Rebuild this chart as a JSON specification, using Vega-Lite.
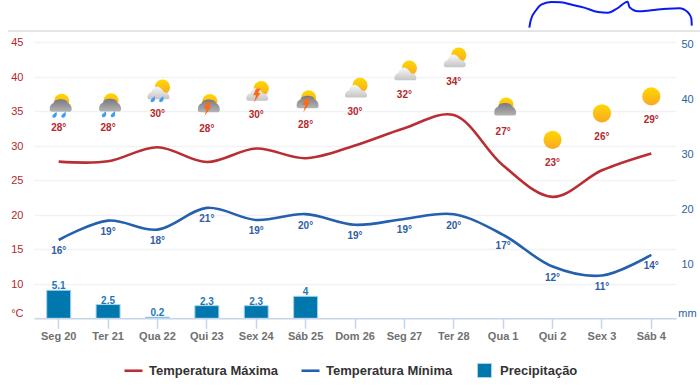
{
"$schema":"https://vega.github.io/schema/vega-lite/v6.json",
"width":642,"height":318.3,
"autosize":{"type":"none"},
"padding":{"left":34,"top":0,"right":24,"bottom":69.7},
"background":"white",
"config":{"view":{"stroke":null},"font":"Liberation Sans"},
"datasets":{
"temps":[
{"dia":"Seg 20","serie":"Temperatura Máxima","valor":27.7,"rotulo":"28°","icone":"escura-chuva"},
{"dia":"Ter 21","serie":"Temperatura Máxima","valor":27.75,"rotulo":"28°","icone":"escura-chuva"},
{"dia":"Qua 22","serie":"Temperatura Máxima","valor":29.8,"rotulo":"30°","icone":"clara-chuva"},
{"dia":"Qui 23","serie":"Temperatura Máxima","valor":27.65,"rotulo":"28°","icone":"escura-raio"},
{"dia":"Sex 24","serie":"Temperatura Máxima","valor":29.6,"rotulo":"30°","icone":"clara-raio"},
{"dia":"Sáb 25","serie":"Temperatura Máxima","valor":28.2,"rotulo":"28°","icone":"escura-raio"},
{"dia":"Dom 26","serie":"Temperatura Máxima","valor":30.05,"rotulo":"30°","icone":"clara"},
{"dia":"Seg 27","serie":"Temperatura Máxima","valor":32.55,"rotulo":"32°","icone":"clara"},
{"dia":"Ter 28","serie":"Temperatura Máxima","valor":34.45,"rotulo":"34°","icone":"clara"},
{"dia":"Qua 1","serie":"Temperatura Máxima","valor":27.15,"rotulo":"27°","icone":"escura"},
{"dia":"Qui 2","serie":"Temperatura Máxima","valor":22.6,"rotulo":"23°","icone":"sol"},
{"dia":"Sex 3","serie":"Temperatura Máxima","valor":26.45,"rotulo":"26°","icone":"sol"},
{"dia":"Sáb 4","serie":"Temperatura Máxima","valor":28.9,"rotulo":"29°","icone":"sol"},
{"dia":"Seg 20","serie":"Temperatura Mínima","valor":16.35,"rotulo":"16°"},
{"dia":"Ter 21","serie":"Temperatura Mínima","valor":19.15,"rotulo":"19°"},
{"dia":"Qua 22","serie":"Temperatura Mínima","valor":17.85,"rotulo":"18°"},
{"dia":"Qui 23","serie":"Temperatura Mínima","valor":21,"rotulo":"21°"},
{"dia":"Sex 24","serie":"Temperatura Mínima","valor":19.25,"rotulo":"19°"},
{"dia":"Sáb 25","serie":"Temperatura Mínima","valor":20.1,"rotulo":"20°"},
{"dia":"Dom 26","serie":"Temperatura Mínima","valor":18.55,"rotulo":"19°"},
{"dia":"Seg 27","serie":"Temperatura Mínima","valor":19.4,"rotulo":"19°"},
{"dia":"Ter 28","serie":"Temperatura Mínima","valor":20.07,"rotulo":"20°"},
{"dia":"Qua 1","serie":"Temperatura Mínima","valor":17.1,"rotulo":"17°"},
{"dia":"Qui 2","serie":"Temperatura Mínima","valor":12.5,"rotulo":"12°"},
{"dia":"Sex 3","serie":"Temperatura Mínima","valor":11.2,"rotulo":"11°"},
{"dia":"Sáb 4","serie":"Temperatura Mínima","valor":14.2,"rotulo":"14°"}
],
"chuva":[
{"dia":"Seg 20","serie":"Precipitação","mm":5.1},
{"dia":"Ter 21","serie":"Precipitação","mm":2.5},
{"dia":"Qua 22","serie":"Precipitação","mm":0.2},
{"dia":"Qui 23","serie":"Precipitação","mm":2.3},
{"dia":"Sex 24","serie":"Precipitação","mm":2.3},
{"dia":"Sáb 25","serie":"Precipitação","mm":4}
],
"traco":[
{"d":9.53,"t":47.12},{"d":9.56,"t":48.23},{"d":9.67,"t":49.68},{"d":9.77,"t":50.45},{"d":9.97,"t":50.84},
{"d":10.17,"t":50.8},{"d":10.41,"t":50.41},{"d":10.64,"t":50.02},{"d":10.92,"t":49.39},{"d":11.12,"t":49.29},
{"d":11.32,"t":49.97},{"d":11.52,"t":50.89},{"d":11.56,"t":50.07},{"d":11.73,"t":49.49},{"d":12.0,"t":49.64},
{"d":12.33,"t":49.87},{"d":12.57,"t":49.93},{"d":12.74,"t":49.35},{"d":12.81,"t":48.48},{"d":12.82,"t":47.41}
],
"borda":[{"d":-1.03,"t":46.64},{"d":13.01,"t":46.64}]
},
"resolve":{"scale":{"x":"independent","y":"independent"}},
"layer":[
{
"encoding":{
"x":{"field":"dia","type":"nominal","title":null,
 "scale":{"type":"band","padding":0,"domain":["Seg 20","Ter 21","Qua 22","Qui 23","Sex 24","Sáb 25","Dom 26","Seg 27","Ter 28","Qua 1","Qui 2","Sex 3","Sáb 4"]},
 "axis":{"labelAngle":0,"domainColor":"#c6d5ea","domainWidth":1.5,"tickColor":"#c6d5ea","tickSize":10,"tickWidth":1.5,"labelColor":"#707070","labelFontSize":11,"labelFontWeight":"bold","labelPadding":2,"zindex":1,"grid":false}},
"y":{"field":"valor","type":"quantitative","title":null,
 "scale":{"domain":[5,51.13],"nice":false,"zero":false},
 "axis":{"values":[5,10,15,20,25,30,35,40,45],"labelExpr":"datum.value==5?'°C':datum.label","labelColor":"#b5272d","labelFontSize":11,"labelPadding":11,"ticks":false,"domain":false,"grid":true,"gridColor":"#f2f2f2","gridWidth":1.5,"labelOffset":{"condition":{"test":"datum.value==5","value":-5},"value":0.5}}}
},
"data":{"name":"temps"},
"layer":[
{"mark":{"type":"line","interpolate":"catmull-rom","strokeWidth":2.6},
 "encoding":{"stroke":{"field":"serie","type":"nominal",
  "scale":{"domain":["Temperatura Máxima","Temperatura Mínima"],"range":["#b92e32","#2460ad"]},
  "legend":{"title":null,"orient":"none","legendX":89,"legendY":360,"padding":0,"direction":"horizontal","columns":2,"columnPadding":17,"symbolType":"stroke","symbolSize":324,"symbolStrokeWidth":2.6,"labelFontSize":13,"labelFontWeight":"bold","labelColor":"#333333","labelOffset":5}}}},
{"transform":[{"filter":"datum.serie=='Temperatura Máxima'"}],"mark":{"type":"text","yOffset":-33.5,"fontSize":10,"fontWeight":"bold","color":"#b5272d"},"encoding":{"text":{"field":"rotulo"}}},
{"transform":[{"filter":"datum.serie=='Temperatura Mínima'"}],"mark":{"type":"text","yOffset":11.5,"fontSize":10,"fontWeight":"bold","color":"#2f5da5"},"encoding":{"text":{"field":"rotulo"}}},
{"transform":[{"filter":"indexof(['escura-chuva','escura-raio','escura'],datum.icone)>=0"}],
 "mark":{"type":"point","filled":true,"opacity":1,"shape":"circle","size":225,"xOffset":3,"yOffset":-60.5,"strokeWidth":0,"fill":{"x1":0,"y1":0,"x2":0,"y2":1,"gradient":"linear","stops":[{"offset":0,"color":"#ffd800"},{"offset":1,"color":"#f9a825"}]}}},
{"transform":[{"filter":"indexof(['clara-chuva','clara-raio','clara'],datum.icone)>=0"}],
 "mark":{"type":"point","filled":true,"opacity":1,"shape":"circle","size":230,"xOffset":5,"yOffset":-60,"strokeWidth":0,"fill":{"x1":0,"y1":0,"x2":0,"y2":1,"gradient":"linear","stops":[{"offset":0,"color":"#ffd800"},{"offset":1,"color":"#f9a825"}]}}},
{"transform":[{"filter":"datum.icone=='sol'"}],
 "mark":{"type":"point","filled":true,"opacity":1,"shape":"circle","size":330,"yOffset":-57,"strokeWidth":0,"fill":{"x1":0,"y1":0,"x2":0,"y2":1,"gradient":"linear","stops":[{"offset":0,"color":"#ffd800"},{"offset":1,"color":"#f9a825"}]}}},
{"transform":[{"filter":"indexof(['escura-chuva','escura-raio','escura'],datum.icone)>=0"}],
 "mark":{"type":"point","filled":true,"opacity":1,"size":484,"xOffset":2,"yOffset":-57,"strokeWidth":0,
 "shape":"M-1,0.4 C-1,0.1 -0.85,-0.1 -0.65,-0.15 C-0.6,-0.42 -0.3,-0.5 0,-0.5 C0.3,-0.5 0.6,-0.42 0.65,-0.15 C0.85,-0.1 1,0.15 1,0.4 C1,0.6 0.9,0.65 0.8,0.65 L-0.8,0.65 C-0.95,0.65 -1,0.55 -1,0.4 Z",
 "fill":{"x1":0,"y1":0,"x2":0,"y2":1,"gradient":"linear","stops":[{"offset":0,"color":"#787880"},{"offset":1,"color":"#b4b4b4"}]}}},
{"transform":[{"filter":"indexof(['clara-chuva','clara-raio','clara'],datum.icone)>=0"}],
 "mark":{"type":"point","filled":true,"opacity":1,"size":484,"xOffset":1,"yOffset":-55,"strokeWidth":0,
 "shape":"M-1,0.45 C-1,0.2 -0.85,0.05 -0.65,0 C-0.55,-0.35 -0.3,-0.55 -0.05,-0.5 C0.2,-0.45 0.4,-0.2 0.5,0 C0.8,0 1,0.2 1,0.45 C1,0.6 0.9,0.65 0.8,0.65 L-0.8,0.65 C-0.95,0.65 -1,0.55 -1,0.45 Z",
 "fill":{"x1":0,"y1":0,"x2":0,"y2":1,"gradient":"linear","stops":[{"offset":0,"color":"#f8f8f8"},{"offset":1,"color":"#c4c4c4"}]}}},
{"transform":[{"filter":"datum.icone=='escura-chuva'"}],
 "mark":{"type":"point","filled":true,"opacity":1,"size":36,"xOffset":-4,"yOffset":-47,"strokeWidth":0,"color":"#3f9bf5","shape":"M0.6,-1 L0.7,-0.2 C0.8,0.6 0.2,1 -0.3,1 C-0.8,1 -0.9,0.4 -0.6,0 Z"}},
{"transform":[{"filter":"datum.icone=='escura-chuva'"}],
 "mark":{"type":"point","filled":true,"opacity":1,"size":36,"xOffset":5,"yOffset":-47,"strokeWidth":0,"color":"#3f9bf5","shape":"M0.6,-1 L0.7,-0.2 C0.8,0.6 0.2,1 -0.3,1 C-0.8,1 -0.9,0.4 -0.6,0 Z"}},
{"transform":[{"filter":"datum.icone=='clara-chuva'"}],
 "mark":{"type":"point","filled":true,"opacity":1,"size":36,"xOffset":-4.5,"yOffset":-48,"strokeWidth":0,"color":"#3f9bf5","shape":"M0.6,-1 L0.7,-0.2 C0.8,0.6 0.2,1 -0.3,1 C-0.8,1 -0.9,0.4 -0.6,0 Z"}},
{"transform":[{"filter":"datum.icone=='clara-chuva'"}],
 "mark":{"type":"point","filled":true,"opacity":1,"size":36,"xOffset":4,"yOffset":-48,"strokeWidth":0,"color":"#3f9bf5","shape":"M0.6,-1 L0.7,-0.2 C0.8,0.6 0.2,1 -0.3,1 C-0.8,1 -0.9,0.4 -0.6,0 Z"}},
{"transform":[{"filter":"datum.icone=='escura-raio'||datum.icone=='clara-raio'"}],
 "mark":{"type":"point","filled":true,"opacity":1,"size":196,"xOffset":0.5,"yOffset":-53,"strokeWidth":0,"color":"#f96a1b","shape":"M-0.1,-1 L0.55,-1 L0.2,-0.35 L0.55,-0.35 L-0.4,1 L-0.1,-0.05 L-0.5,-0.05 Z"}}
]
},
{
"data":{"name":"chuva"},
"encoding":{
"x":{"field":"dia","type":"nominal","scale":{"type":"band","padding":0,"domain":["Seg 20","Ter 21","Qua 22","Qui 23","Sex 24","Sáb 25","Dom 26","Seg 27","Ter 28","Qua 1","Qui 2","Sex 3","Sáb 4"]},"axis":null},
"y":{"field":"mm","type":"quantitative","title":null,"scale":{"domain":[0,57.87],"nice":false},
 "axis":{"orient":"right","values":[0,10,20,30,40,50],"labelExpr":"datum.value==0?'mm':datum.label","labelColor":"#2a62a8","labelFontSize":11,"labelAlign":"center","labelPadding":11,"ticks":false,"domain":false,"grid":false,"labelOffset":{"condition":{"test":"datum.value==0","value":-5},"value":1}}}
},
"layer":[
{"mark":{"type":"bar","size":24,"stroke":"#a8d4ea","strokeWidth":1},
 "encoding":{"fill":{"field":"serie","type":"nominal","scale":{"domain":["Precipitação"],"range":["#0078ae"]},
  "legend":{"title":null,"orient":"none","legendX":443,"legendY":363,"padding":0,"symbolType":"square","symbolSize":196,"symbolStrokeColor":"#a8d4ea","symbolStrokeWidth":1,"labelFontSize":13,"labelFontWeight":"bold","labelColor":"#333333","labelOffset":8}}}},
{"mark":{"type":"text","yOffset":-4,"fontSize":10,"fontWeight":"bold","color":"#1f78b4","baseline":"middle"},"encoding":{"text":{"field":"mm","type":"quantitative","format":"~g"}}}
]
},
{"data":{"name":"traco"},
 "mark":{"type":"line","color":"#0a1af0","strokeWidth":2,"interpolate":"monotone","clip":false},
 "encoding":{"x":{"field":"d","type":"quantitative","scale":{"domain":[-0.5,12.5],"nice":false,"zero":false},"axis":null},"y":{"field":"t","type":"quantitative","scale":{"domain":[5,51.13],"nice":false,"zero":false},"axis":null}}},
{"data":{"name":"borda"},
 "mark":{"type":"line","color":"#dddddd","strokeWidth":1.5,"clip":false},
 "encoding":{"x":{"field":"d","type":"quantitative","scale":{"domain":[-0.5,12.5],"nice":false,"zero":false},"axis":null},"y":{"field":"t","type":"quantitative","scale":{"domain":[5,51.13],"nice":false,"zero":false},"axis":null}}}
]
}
